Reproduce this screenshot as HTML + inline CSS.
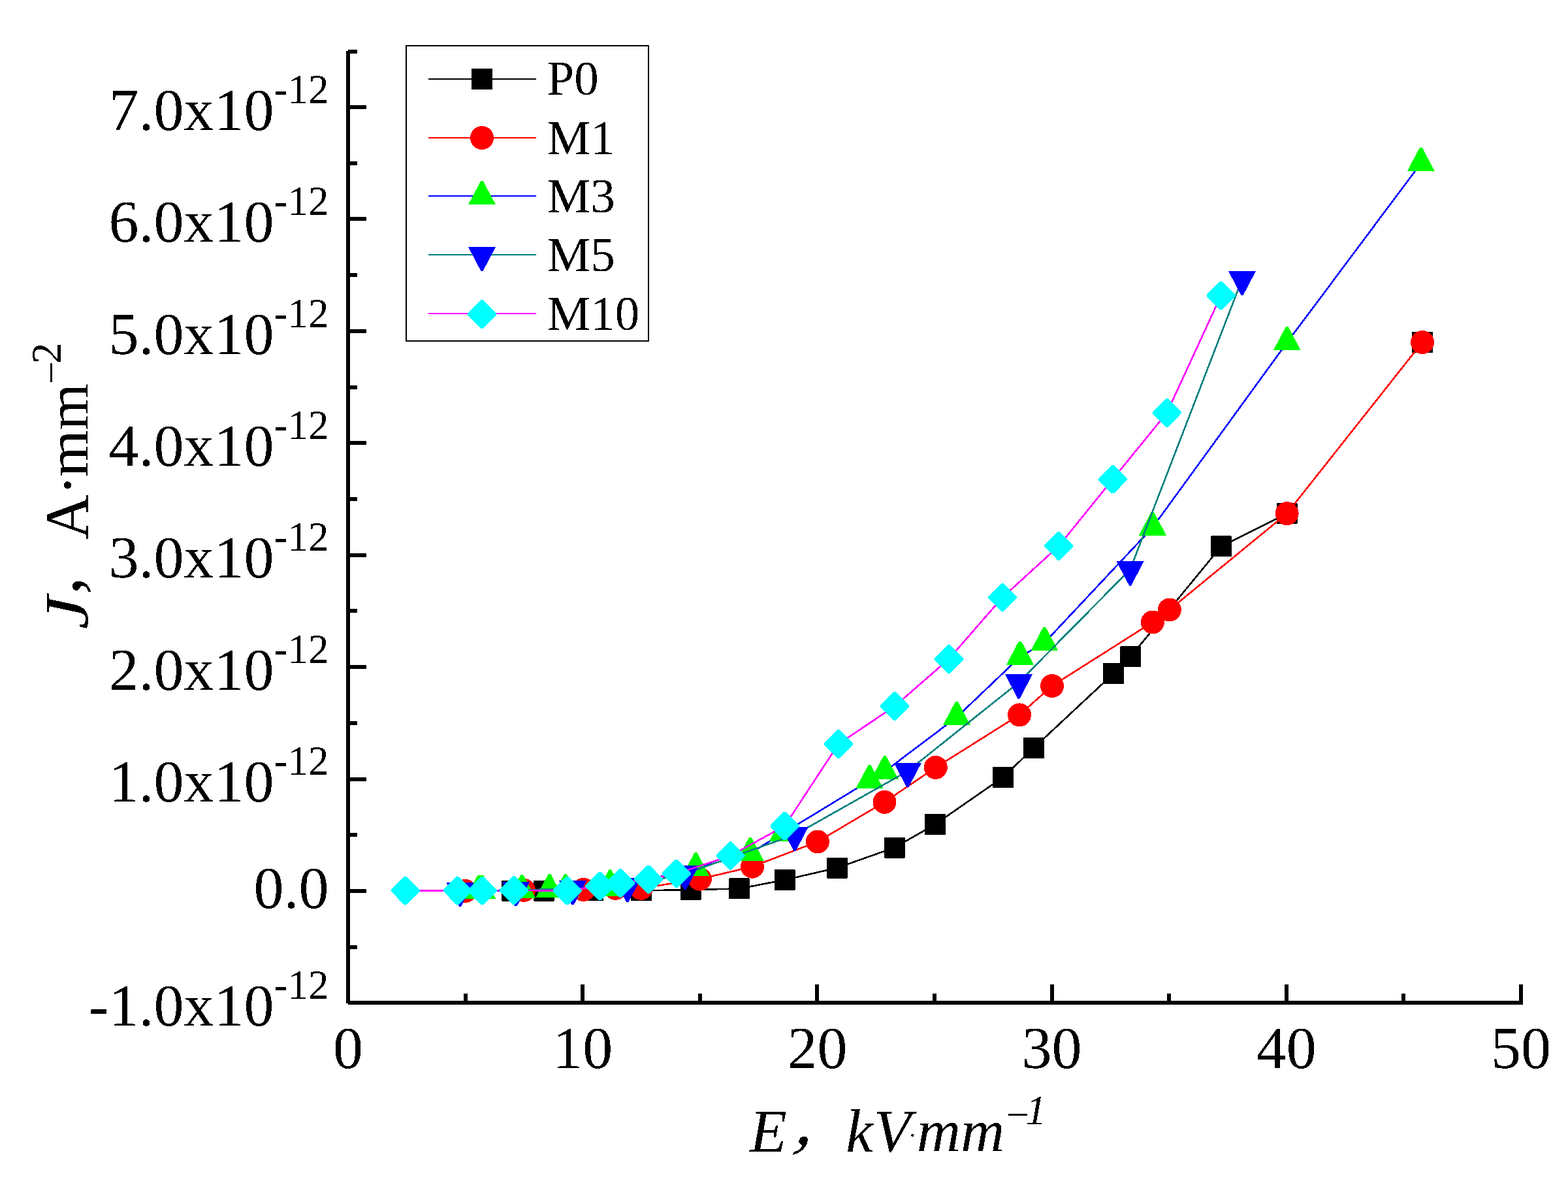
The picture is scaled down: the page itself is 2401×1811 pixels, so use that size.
<!DOCTYPE html><html><head><meta charset="utf-8"><title>J-E curves</title><style>html,body{margin:0;padding:0;background:#fff;}svg{display:block;shape-rendering:crispEdges;}text{font-family:"Liberation Serif","Noto Serif CJK SC",serif;fill:#000;}.it{font-style:italic;}</style></head><body>
<svg width="2401" height="1811" viewBox="0 0 2401 1811">
<rect width="2401" height="1811" fill="#fff"/>
<defs><filter id="th" x="-5%" y="-5%" width="110%" height="110%"><feComponentTransfer><feFuncA type="discrete" tableValues="0 1"/></feComponentTransfer></filter></defs>
<path d="M783.6 1363.5 L832.5 1363.5 L908.4 1363.3 L982.3 1363.3 L1057.5 1362.2 L1132 1360.4 L1201.5 1347 L1282 1328.5 L1369.9 1297.5 L1432 1261.9 L1535.9 1189.8 L1583 1144.9 L1705.1 1031 L1731 1005.4 L1870 836.4 L1970.6 786.1 L2178 523.9" fill="none" stroke="#000000" stroke-width="2.6" stroke-linejoin="round"/>
<rect x="767.6" y="1347.5" width="32" height="32" rx="1" fill="#000000"/><rect x="816.5" y="1347.5" width="32" height="32" rx="1" fill="#000000"/><rect x="892.4" y="1347.3" width="32" height="32" rx="1" fill="#000000"/><rect x="966.3" y="1347.3" width="32" height="32" rx="1" fill="#000000"/><rect x="1041.5" y="1346.2" width="32" height="32" rx="1" fill="#000000"/><rect x="1116" y="1344.4" width="32" height="32" rx="1" fill="#000000"/><rect x="1185.5" y="1331" width="32" height="32" rx="1" fill="#000000"/><rect x="1266" y="1312.5" width="32" height="32" rx="1" fill="#000000"/><rect x="1353.9" y="1281.5" width="32" height="32" rx="1" fill="#000000"/><rect x="1416" y="1245.9" width="32" height="32" rx="1" fill="#000000"/><rect x="1519.9" y="1173.8" width="32" height="32" rx="1" fill="#000000"/><rect x="1567" y="1128.9" width="32" height="32" rx="1" fill="#000000"/><rect x="1689.1" y="1015" width="32" height="32" rx="1" fill="#000000"/><rect x="1715" y="989.4" width="32" height="32" rx="1" fill="#000000"/><rect x="1854" y="820.4" width="32" height="32" rx="1" fill="#000000"/><rect x="1954.6" y="770.1" width="32" height="32" rx="1" fill="#000000"/><rect x="2162" y="507.9" width="32" height="32" rx="1" fill="#000000"/>
<path d="M712.5 1364 L802 1362.8 L893.5 1362 L942.3 1359.8 L981.7 1359.8 L1071.8 1345.7 L1152 1326.7 L1252 1288.5 L1354.5 1227.8 L1432.8 1174.9 L1561 1094.4 L1611 1050 L1764.9 952.5 L1790.8 933.5 L1970.6 786.1 L2178 523.9" fill="none" stroke="#FF0000" stroke-width="2.6" stroke-linejoin="round"/>
<circle cx="712.5" cy="1364" r="18" fill="#FF0000"/><circle cx="802" cy="1362.8" r="18" fill="#FF0000"/><circle cx="893.5" cy="1362" r="18" fill="#FF0000"/><circle cx="942.3" cy="1359.8" r="18" fill="#FF0000"/><circle cx="981.7" cy="1359.8" r="18" fill="#FF0000"/><circle cx="1071.8" cy="1345.7" r="18" fill="#FF0000"/><circle cx="1152" cy="1326.7" r="18" fill="#FF0000"/><circle cx="1252" cy="1288.5" r="18" fill="#FF0000"/><circle cx="1354.5" cy="1227.8" r="18" fill="#FF0000"/><circle cx="1432.8" cy="1174.9" r="18" fill="#FF0000"/><circle cx="1561" cy="1094.4" r="18" fill="#FF0000"/><circle cx="1611" cy="1050" r="18" fill="#FF0000"/><circle cx="1764.9" cy="952.5" r="18" fill="#FF0000"/><circle cx="1790.8" cy="933.5" r="18" fill="#FF0000"/><circle cx="1970.6" cy="786.1" r="18" fill="#FF0000"/><circle cx="2178" cy="523.9" r="18" fill="#FF0000"/>
<path d="M733.3 1363.9 L738.3 1363.9 L799.3 1363 L841.4 1362 L865.8 1362 L934.3 1355.2 L936.5 1359.8 L1065.4 1329.1 L1148.8 1306 L1199 1275.5 L1331.5 1195 L1354.8 1181 L1464.9 1098 L1562 1005.5 L1599.3 984 L1764.9 807.5 L1970.8 524.3 L2175.8 249.9" fill="none" stroke="#0000FF" stroke-width="2.6" stroke-linejoin="round"/>
<path d="M731.4 1339.9 L735.2 1339.9 L754.3 1375.9 L712.3 1375.9Z" fill="#00FF00"/><path d="M736.4 1339.9 L740.2 1339.9 L759.3 1375.9 L717.3 1375.9Z" fill="#00FF00"/><path d="M797.4 1339 L801.2 1339 L820.3 1375 L778.3 1375Z" fill="#00FF00"/><path d="M839.5 1338 L843.3 1338 L862.4 1374 L820.4 1374Z" fill="#00FF00"/><path d="M863.9 1338 L867.7 1338 L886.8 1374 L844.8 1374Z" fill="#00FF00"/><path d="M932.4 1331.2 L936.2 1331.2 L955.3 1367.2 L913.3 1367.2Z" fill="#00FF00"/><path d="M934.6 1335.8 L938.4 1335.8 L957.5 1371.8 L915.5 1371.8Z" fill="#00FF00"/><path d="M1063.5 1305.1 L1067.3 1305.1 L1086.4 1341.1 L1044.4 1341.1Z" fill="#00FF00"/><path d="M1146.9 1282 L1150.7 1282 L1169.8 1318 L1127.8 1318Z" fill="#00FF00"/><path d="M1197.1 1251.5 L1200.9 1251.5 L1220 1287.5 L1178 1287.5Z" fill="#00FF00"/><path d="M1329.6 1171 L1333.4 1171 L1352.5 1207 L1310.5 1207Z" fill="#00FF00"/><path d="M1352.9 1157 L1356.7 1157 L1375.8 1193 L1333.8 1193Z" fill="#00FF00"/><path d="M1463 1074 L1466.8 1074 L1485.9 1110 L1443.9 1110Z" fill="#00FF00"/><path d="M1560.1 981.5 L1563.9 981.5 L1583 1017.5 L1541 1017.5Z" fill="#00FF00"/><path d="M1597.4 960 L1601.2 960 L1620.3 996 L1578.3 996Z" fill="#00FF00"/><path d="M1763 783.5 L1766.8 783.5 L1785.9 819.5 L1743.9 819.5Z" fill="#00FF00"/><path d="M1968.9 500.3 L1972.7 500.3 L1991.8 536.3 L1949.8 536.3Z" fill="#00FF00"/><path d="M2173.9 225.9 L2177.7 225.9 L2196.8 261.9 L2154.8 261.9Z" fill="#00FF00"/>
<path d="M704.4 1363.3 L790 1362.6 L877 1360.6 L960.8 1356.3 L1049 1337.5 L1217 1278 L1389.8 1180.5 L1560 1044.7 L1730.6 871.7 L1902 427.4" fill="none" stroke="#008080" stroke-width="2.6" stroke-linejoin="round"/>
<path d="M683.4 1351 L725.4 1351 L705.9 1388.1 L702.9 1388.1Z" fill="#0000FF"/><path d="M769 1350.3 L811 1350.3 L791.5 1387.4 L788.5 1387.4Z" fill="#0000FF"/><path d="M856 1348.3 L898 1348.3 L878.5 1385.4 L875.5 1385.4Z" fill="#0000FF"/><path d="M939.8 1344 L981.8 1344 L962.3 1381.1 L959.3 1381.1Z" fill="#0000FF"/><path d="M1028 1325.2 L1070 1325.2 L1050.5 1362.3 L1047.5 1362.3Z" fill="#0000FF"/><path d="M1196 1265.7 L1238 1265.7 L1218.5 1302.8 L1215.5 1302.8Z" fill="#0000FF"/><path d="M1368.8 1168.2 L1410.8 1168.2 L1391.3 1205.3 L1388.3 1205.3Z" fill="#0000FF"/><path d="M1539 1032.4 L1581 1032.4 L1561.5 1069.5 L1558.5 1069.5Z" fill="#0000FF"/><path d="M1709.6 859.4 L1751.6 859.4 L1732.1 896.5 L1729.1 896.5Z" fill="#0000FF"/><path d="M1881 415.1 L1923 415.1 L1903.5 452.2 L1900.5 452.2Z" fill="#0000FF"/>
<path d="M620.8 1363.4 L700.8 1363.4 L738.5 1363.4 L787 1363 L868.6 1363.5 L918.3 1356.4 L949.8 1352 L992.9 1346.3 L1035.9 1337.4 L1118.5 1310 L1201.5 1264.5 L1283.9 1139 L1370.2 1081 L1452.8 1009 L1535.1 914.5 L1621.3 835.9 L1703.9 733.7 L1786.8 631.9 L1869.7 452.5" fill="none" stroke="#FF00FF" stroke-width="2.6" stroke-linejoin="round"/>
<path d="M618.9 1341.8 L622.6 1341.8 L642.8 1362.1 L642.8 1364.7 L622.6 1385 L618.9 1385 L598.8 1364.7 L598.8 1362.1Z" fill="#00FFFF"/><path d="M698.9 1341.8 L702.6 1341.8 L722.8 1362.1 L722.8 1364.7 L702.6 1385 L698.9 1385 L678.8 1364.7 L678.8 1362.1Z" fill="#00FFFF"/><path d="M736.6 1341.8 L740.4 1341.8 L760.5 1362.1 L760.5 1364.7 L740.4 1385 L736.6 1385 L716.5 1364.7 L716.5 1362.1Z" fill="#00FFFF"/><path d="M785.1 1341.4 L788.9 1341.4 L809 1361.7 L809 1364.3 L788.9 1384.6 L785.1 1384.6 L765 1364.3 L765 1361.7Z" fill="#00FFFF"/><path d="M866.8 1341.9 L870.5 1341.9 L890.6 1362.2 L890.6 1364.8 L870.5 1385.1 L866.8 1385.1 L846.6 1364.8 L846.6 1362.2Z" fill="#00FFFF"/><path d="M916.4 1334.8 L920.1 1334.8 L940.3 1355.1 L940.3 1357.7 L920.1 1378 L916.4 1378 L896.3 1357.7 L896.3 1355.1Z" fill="#00FFFF"/><path d="M947.9 1330.4 L951.6 1330.4 L971.8 1350.7 L971.8 1353.3 L951.6 1373.6 L947.9 1373.6 L927.8 1353.3 L927.8 1350.7Z" fill="#00FFFF"/><path d="M991 1324.7 L994.8 1324.7 L1014.9 1345 L1014.9 1347.6 L994.8 1367.9 L991 1367.9 L970.9 1347.6 L970.9 1345Z" fill="#00FFFF"/><path d="M1034.1 1315.8 L1037.8 1315.8 L1057.9 1336.1 L1057.9 1338.7 L1037.8 1359 L1034.1 1359 L1013.9 1338.7 L1013.9 1336.1Z" fill="#00FFFF"/><path d="M1116.7 1288.4 L1120.3 1288.4 L1140.5 1308.7 L1140.5 1311.3 L1120.3 1331.6 L1116.7 1331.6 L1096.5 1311.3 L1096.5 1308.7Z" fill="#00FFFF"/><path d="M1199.7 1242.9 L1203.3 1242.9 L1223.5 1263.2 L1223.5 1265.8 L1203.3 1286.1 L1199.7 1286.1 L1179.5 1265.8 L1179.5 1263.2Z" fill="#00FFFF"/><path d="M1282.1 1117.4 L1285.8 1117.4 L1305.9 1137.7 L1305.9 1140.3 L1285.8 1160.6 L1282.1 1160.6 L1261.9 1140.3 L1261.9 1137.7Z" fill="#00FFFF"/><path d="M1368.4 1059.4 L1372 1059.4 L1392.2 1079.7 L1392.2 1082.3 L1372 1102.6 L1368.4 1102.6 L1348.2 1082.3 L1348.2 1079.7Z" fill="#00FFFF"/><path d="M1451 987.4 L1454.6 987.4 L1474.8 1007.7 L1474.8 1010.3 L1454.6 1030.6 L1451 1030.6 L1430.8 1010.3 L1430.8 1007.7Z" fill="#00FFFF"/><path d="M1533.2 892.9 L1536.9 892.9 L1557.1 913.2 L1557.1 915.8 L1536.9 936.1 L1533.2 936.1 L1513.1 915.8 L1513.1 913.2Z" fill="#00FFFF"/><path d="M1619.5 814.3 L1623.1 814.3 L1643.3 834.6 L1643.3 837.2 L1623.1 857.5 L1619.5 857.5 L1599.3 837.2 L1599.3 834.6Z" fill="#00FFFF"/><path d="M1702.1 712.1 L1705.8 712.1 L1725.9 732.4 L1725.9 735 L1705.8 755.3 L1702.1 755.3 L1681.9 735 L1681.9 732.4Z" fill="#00FFFF"/><path d="M1785 610.3 L1788.6 610.3 L1808.8 630.6 L1808.8 633.2 L1788.6 653.5 L1785 653.5 L1764.8 633.2 L1764.8 630.6Z" fill="#00FFFF"/><path d="M1867.9 430.9 L1871.5 430.9 L1891.7 451.2 L1891.7 453.8 L1871.5 474.1 L1867.9 474.1 L1847.7 453.8 L1847.7 451.2Z" fill="#00FFFF"/>
<g fill="#000">
<rect x="530" y="78" width="6" height="1458"/>
<rect x="533" y="1532" width="1799" height="6"/>
<rect x="533" y="1532.4" width="28" height="6"/>
<rect x="533" y="1361" width="28" height="6"/>
<rect x="533" y="1189.6" width="28" height="6"/>
<rect x="533" y="1018.1" width="28" height="6"/>
<rect x="533" y="846.7" width="28" height="6"/>
<rect x="533" y="675.3" width="28" height="6"/>
<rect x="533" y="503.8" width="28" height="6"/>
<rect x="533" y="332.4" width="28" height="6"/>
<rect x="533" y="161" width="28" height="6"/>
<rect x="533" y="1446.7" width="14" height="6"/>
<rect x="533" y="1275.3" width="14" height="6"/>
<rect x="533" y="1103.9" width="14" height="6"/>
<rect x="533" y="932.4" width="14" height="6"/>
<rect x="533" y="761" width="14" height="6"/>
<rect x="533" y="589.6" width="14" height="6"/>
<rect x="533" y="418.1" width="14" height="6"/>
<rect x="533" y="246.7" width="14" height="6"/>
<rect x="533" y="76.1" width="14" height="6"/>
<rect x="530" y="1507" width="6" height="28"/>
<rect x="889.2" y="1507" width="6" height="28"/>
<rect x="1248.4" y="1507" width="6" height="28"/>
<rect x="1607.6" y="1507" width="6" height="28"/>
<rect x="1966.8" y="1507" width="6" height="28"/>
<rect x="2326" y="1507" width="6" height="28"/>
<rect x="709.6" y="1521" width="6" height="14"/>
<rect x="1068.8" y="1521" width="6" height="14"/>
<rect x="1428" y="1521" width="6" height="14"/>
<rect x="1787.2" y="1521" width="6" height="14"/>
<rect x="2146.4" y="1521" width="6" height="14"/>
</g>
<g filter="url(#th)">
<text x="503.5" y="1570.1" font-size="92" text-anchor="end">-1.0x10<tspan font-size="63" dy="-41">-12</tspan></text>
<text x="503.5" y="1390.3" font-size="92" text-anchor="end">0.0</text>
<text x="503.5" y="1227.3" font-size="92" text-anchor="end">1.0x10<tspan font-size="63" dy="-41">-12</tspan></text>
<text x="503.5" y="1055.8" font-size="92" text-anchor="end">2.0x10<tspan font-size="63" dy="-41">-12</tspan></text>
<text x="503.5" y="884.4" font-size="92" text-anchor="end">3.0x10<tspan font-size="63" dy="-41">-12</tspan></text>
<text x="503.5" y="713" font-size="92" text-anchor="end">4.0x10<tspan font-size="63" dy="-41">-12</tspan></text>
<text x="503.5" y="541.5" font-size="92" text-anchor="end">5.0x10<tspan font-size="63" dy="-41">-12</tspan></text>
<text x="503.5" y="370.1" font-size="92" text-anchor="end">6.0x10<tspan font-size="63" dy="-41">-12</tspan></text>
<text x="503.5" y="198.7" font-size="92" text-anchor="end">7.0x10<tspan font-size="63" dy="-41">-12</tspan></text>
<text x="533" y="1635" font-size="92" text-anchor="middle">0</text>
<text x="892.2" y="1635" font-size="92" text-anchor="middle">10</text>
<text x="1251.4" y="1635" font-size="92" text-anchor="middle">20</text>
<text x="1610.6" y="1635" font-size="92" text-anchor="middle">30</text>
<text x="1969.8" y="1635" font-size="92" text-anchor="middle">40</text>
<text x="2329" y="1635" font-size="92" text-anchor="middle">50</text>
<text y="1763" font-size="93" class="it"><tspan x="1148">E</tspan><tspan x="1295.3">k</tspan><tspan x="1338">V</tspan><tspan x="1392" y="1749.5" font-size="38">·</tspan><tspan x="1403.8" y="1763">mm</tspan><tspan x="1536.7" y="1727.2" font-size="63">−</tspan><tspan x="1570.6" y="1720.6" font-size="63">1</tspan></text>
<text class="it" font-size="110" transform="translate(1215,1750.7) skewX(-16)">,</text>
<g transform="translate(135,962) rotate(-90)"><text y="0" font-size="95"><tspan x="136">A</tspan><tspan x="203.5">·</tspan><tspan x="232" font-size="92">mm</tspan><tspan x="374" y="-36" font-size="63">−</tspan><tspan x="405" y="-42" font-size="65">2</tspan></text><text font-size="110" x="51.8" y="-12.7">,</text><text class="it" font-size="95" transform="translate(-1.4,0) scale(1.21,1)">J</text></g>
</g>
<rect x="622" y="70" width="371" height="451.5" fill="none" stroke="#000" stroke-width="2"/>
<line x1="656" y1="121" x2="821" y2="121" stroke="#000000" stroke-width="2"/>
<rect x="722" y="104.9" width="32" height="32" rx="1" fill="#000000"/>
<text x="837.5" y="145.3" font-size="75" filter="url(#th)">P0</text>
<line x1="656" y1="210.6" x2="821" y2="210.6" stroke="#FF0000" stroke-width="2"/>
<circle cx="738" cy="211" r="18" fill="#FF0000"/>
<text x="837.5" y="235.6" font-size="75" filter="url(#th)">M1</text>
<line x1="656" y1="299.8" x2="821" y2="299.8" stroke="#0000FF" stroke-width="2"/>
<path d="M736.1 277.2 L739.9 277.2 L759 313.2 L717 313.2Z" fill="#00FF00"/>
<text x="837.5" y="325.3" font-size="75" filter="url(#th)">M3</text>
<line x1="656" y1="389.7" x2="821" y2="389.7" stroke="#008080" stroke-width="2"/>
<path d="M717 378 L759 378 L739.5 415.1 L736.5 415.1Z" fill="#0000FF"/>
<text x="837.5" y="415.3" font-size="75" filter="url(#th)">M5</text>
<line x1="656" y1="479.7" x2="821" y2="479.7" stroke="#FF00FF" stroke-width="2"/>
<path d="M736.1 459.4 L739.9 459.4 L760 479.7 L760 482.3 L739.9 502.6 L736.1 502.6 L716 482.3 L716 479.7Z" fill="#00FFFF"/>
<text x="837.5" y="505.2" font-size="75" filter="url(#th)">M10</text>
</svg></body></html>
